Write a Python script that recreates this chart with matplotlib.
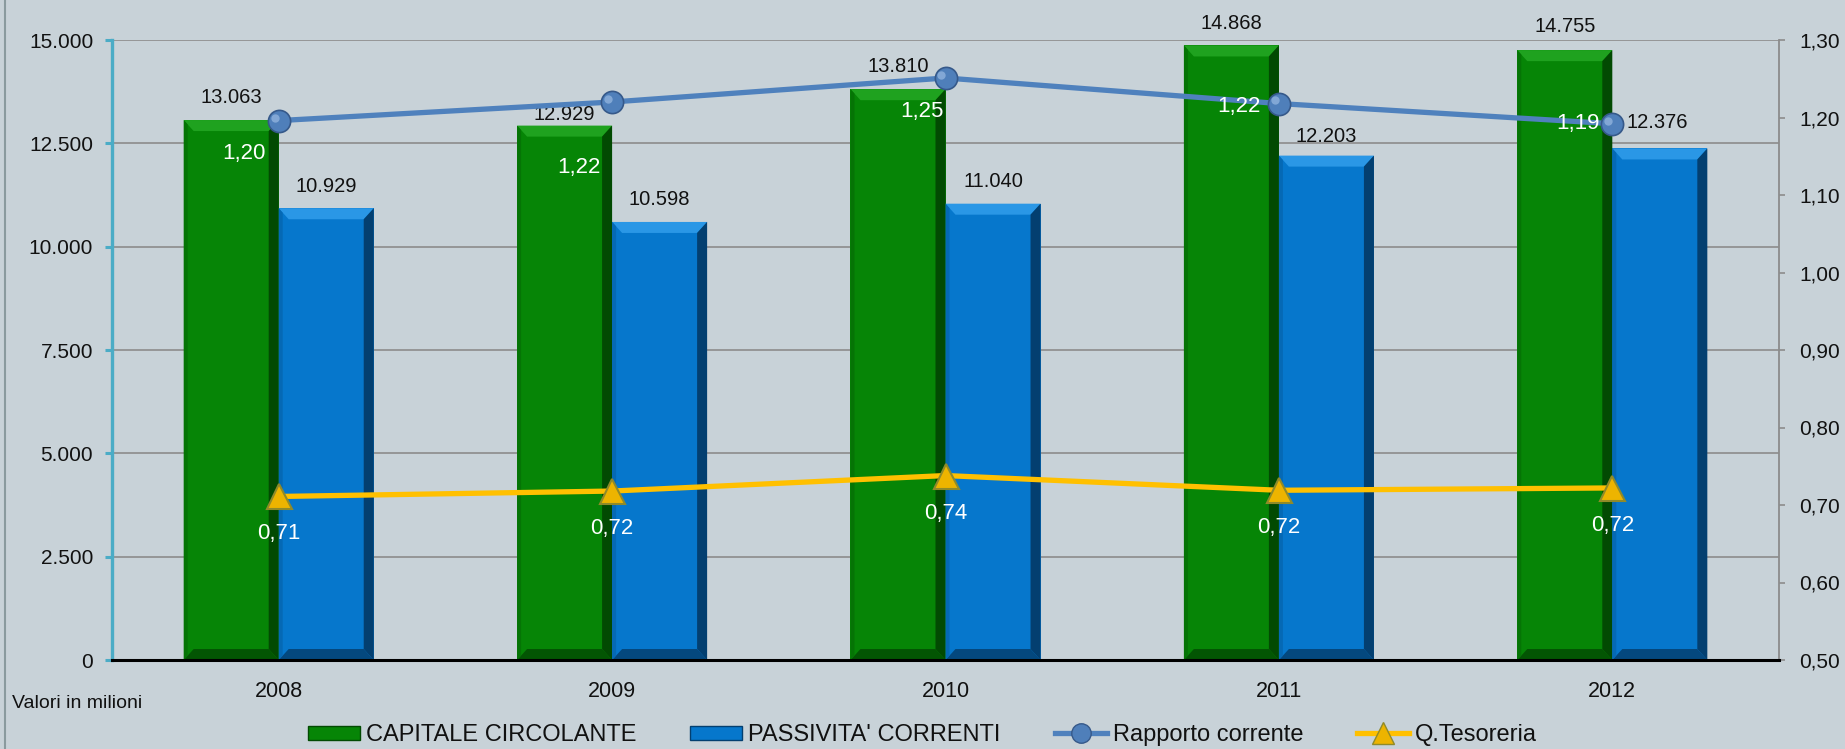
import matplotlib
matplotlib.use("Agg")
import matplotlib.pyplot as plt
from matplotlib.patches import Polygon, Patch
from matplotlib.lines import Line2D
from matplotlib.ticker import FixedLocator, FuncFormatter

plt.rcParams['font.family'] = ['Liberation Sans', 'DejaVu Sans']

# ---- data ----
years = ['2008', '2009', '2010', '2011', '2012']
capitale = [13063, 12929, 13810, 14868, 14755]
passivita = [10929, 10598, 11040, 12203, 12376]
rapporto = [1.196, 1.220, 1.251, 1.218, 1.192]
rapporto_labels = ['1,20', '1,22', '1,25', '1,22', '1,19']
tesoreria = [0.711, 0.718, 0.738, 0.719, 0.722]
tesoreria_labels = ['0,71', '0,72', '0,74', '0,72', '0,72']
left_ticks = [0, 2500, 5000, 7500, 10000, 12500, 15000]
right_ticks = [0.5, 0.6, 0.7, 0.8, 0.9, 1.0, 1.1, 1.2, 1.3]

BG = '#C8D2D8'
W, H = 1845, 749
fig = plt.figure(figsize=(W / 100, H / 100), dpi=100, facecolor=BG)
ax_l, ax_r, ax_b, ax_t = 112 / W, 1779 / W, (H - 660) / H, (H - 40) / H
ax = fig.add_axes([ax_l, ax_b, ax_r - ax_l, ax_t - ax_b])
ax.set_facecolor(BG)
ax2 = ax.twinx()
ax2.patch.set_visible(False)

n = len(years)
x = list(range(n))
bw = 0.285
ax.set_xlim(-0.5, n - 0.5)
ax.set_ylim(0, 15000)
ax2.set_ylim(0.5, 1.3)

ax_w_px = (ax_r - ax_l) * W
ax_h_px = (ax_t - ax_b) * H
dx_px = 10
dy_px = 11
ddx = dx_px * n / ax_w_px
ddy = dy_px * 15000 / ax_h_px


def bevel_bars(xpos, vals, main, top, right, bottom, left):
    bars = ax.bar(xpos, vals, width=bw, color=main, edgecolor='none', zorder=2)
    for b in bars:
        x0, y0 = b.get_x(), b.get_y()
        x1, y1 = x0 + b.get_width(), y0 + b.get_height()
        polys = [
            ([(x0, y1), (x1, y1), (x1 - ddx, y1 - ddy), (x0 + ddx, y1 - ddy)], top),
            ([(x1, y1), (x1, y0), (x1 - ddx, y0 + ddy), (x1 - ddx, y1 - ddy)], right),
            ([(x0, y0), (x1, y0), (x1 - ddx, y0 + ddy), (x0 + ddx, y0 + ddy)], bottom),
            ([(x0, y0), (x0, y1), (x0 + ddx * 0.4, y1 - ddy * 0.4), (x0 + ddx * 0.4, y0 + ddy * 0.4)], left),
        ]
        for pts, c in polys:
            ax.add_patch(Polygon(pts, closed=True, facecolor=c, edgecolor='none', zorder=2.1))
    return bars


green_bars = bevel_bars([i - bw / 2 for i in x], capitale,
                        '#068506', '#1FA21F', '#024A02', '#035503', '#057405')
blue_bars = bevel_bars([i + bw / 2 for i in x], passivita,
                       '#0677CC', '#2A97E6', '#033F70', '#04487E', '#0569B5')

# bar value labels
green_offsets = [16, 8, 16, 16, 17]
blue_offsets = [16, 16, 16, 14, 19]
for i, v in enumerate(capitale):
    ax.annotate(f"{v:,}".replace(',', '.'), (i - bw / 2, v), xytext=(0, green_offsets[i]),
                textcoords='offset points', ha='center', va='center', fontsize=14.5,
                color='#111111', zorder=5)
for i, v in enumerate(passivita):
    ax.annotate(f"{v:,}".replace(',', '.'), (i + bw / 2, v), xytext=(-2 if i == 4 else 0, blue_offsets[i]),
                textcoords='offset points', ha='center', va='center', fontsize=14.5,
                color='#111111', zorder=5)

# lines
ax2.plot(x, rapporto, color='#4F81BD', lw=3.8, marker='o', markersize=16,
         markerfacecolor='#4F7FBA', markeredgecolor='#36598A', markeredgewidth=1.2, zorder=4)
ax2.plot([i - 0.012 for i in x], [r + 0.004 for r in rapporto], linestyle='none', marker='o',
         markersize=6, markerfacecolor='#8FB2DC', markeredgecolor='none', alpha=0.8, zorder=4.1)
ax2.plot(x, tesoreria, color='#FFC000', lw=3.8, marker='^', markersize=18,
         markerfacecolor='#EDB400', markeredgecolor='#8F8A2A', markeredgewidth=1.5, zorder=4)

rap_offsets = [(-25, -24), (-24, -47), (-17, -24), (-29, -2), (-25, 0)]
for i, v in enumerate(rapporto):
    ax2.annotate(rapporto_labels[i], (i, v), xytext=rap_offsets[i], textcoords='offset points',
                 ha='center', va='center', fontsize=16, color='white', zorder=6)
for i, v in enumerate(tesoreria):
    ax2.annotate(tesoreria_labels[i], (i, v), xytext=(0, -27), textcoords='offset points',
                 ha='center', va='center', fontsize=16, color='white', zorder=6)

# axes styling
ax.yaxis.set_major_locator(FixedLocator(left_ticks))
ax.yaxis.set_major_formatter(FuncFormatter(lambda v, p: f"{int(v):,}".replace(',', '.')))
ax2.yaxis.set_major_locator(FixedLocator(right_ticks))
ax2.yaxis.set_major_formatter(FuncFormatter(lambda v, p: f"{v:.2f}".replace('.', ',')))
ax.set_xticks(x)
ax.set_xticklabels(years)
ax.tick_params(axis='x', length=0, pad=15, labelsize=15.5, colors='#111111')
ax.tick_params(axis='y', length=5, width=2.2, color='#4BACC6', pad=8.5, labelsize=15,
               labelcolor='#111111')
ax2.tick_params(axis='y', length=4.5, width=1.2, color='#8C8C8C', pad=10, labelsize=15,
                labelcolor='#111111')

ax.grid(axis='y', color='#8C8C8C', lw=1.2, zorder=0)
ax.set_axisbelow(True)
for a in (ax, ax2):
    a.spines['top'].set_visible(False)
    a.spines['left'].set_visible(False)
    a.spines['right'].set_visible(False)
    a.spines['bottom'].set_visible(False)
ax.spines['left'].set_visible(True)
ax.spines['left'].set_color('#4BACC6')
ax.spines['left'].set_linewidth(2.4)
ax2.spines['right'].set_visible(True)
ax2.spines['right'].set_color('#8C8C8C')
ax2.spines['right'].set_linewidth(1.3)
ax2.spines['bottom'].set_visible(True)
ax2.spines['bottom'].set_color('black')
ax2.spines['bottom'].set_linewidth(2.2)

fig.text(12 / W, 1 - 704 / H, 'Valori in milioni', fontsize=14, ha='left', va='center',
         color='#111111')

# figure border on the left
fig.add_artist(Line2D([5 / W, 5 / W], [0, 1], transform=fig.transFigure, color='#8A9A9E', lw=1.5))

handles = [
    Patch(facecolor='#068506', edgecolor='#024A02', lw=1),
    Patch(facecolor='#0677CC', edgecolor='#033F70', lw=1),
    Line2D([], [], color='#4F81BD', lw=3.8, marker='o', markersize=14,
           markerfacecolor='#4F7FBA', markeredgecolor='#36598A'),
    Line2D([], [], color='#FFC000', lw=3.8, marker='^', markersize=16,
           markerfacecolor='#EDB400', markeredgecolor='#8F8A2A'),
]
labels = ['CAPITALE CIRCOLANTE', "PASSIVITA' CORRENTI", 'Rapporto corrente', 'Q.Tesoreria']
fig.legend(handles, labels, loc='center', bbox_to_anchor=(0.5, 1 - 735 / H), ncol=4,
           frameon=False, fontsize=17, handlelength=2.2, handleheight=0.55, handletextpad=0.25,
           columnspacing=2.3, labelcolor='#111111')

fig.savefig('out.png', dpi=100, facecolor=BG)
